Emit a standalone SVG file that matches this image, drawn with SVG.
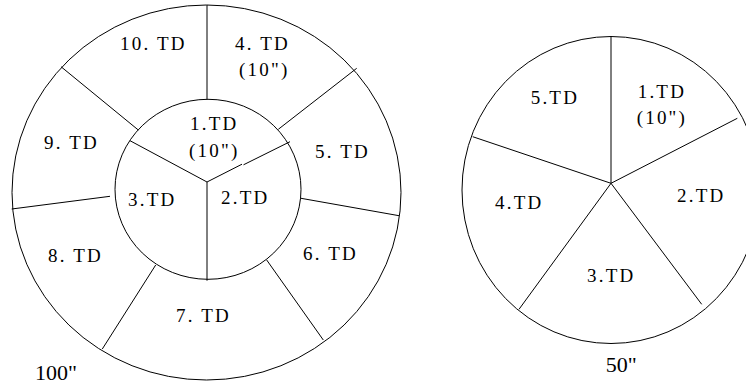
<svg xmlns="http://www.w3.org/2000/svg" width="746" height="388" viewBox="0 0 746 388">
<style>
.o{fill:none;stroke:#000;stroke-width:1}
.l{stroke:#000;stroke-width:1;fill:none}
.t{font-family:"Liberation Serif","Times New Roman",serif;font-size:19px;letter-spacing:2.2px;fill:#000}
.d{font-family:"Liberation Serif","Times New Roman",serif;font-size:22px;fill:#000}
</style>
<rect width="746" height="388" fill="#fff"/>
<g id="circle100">
<ellipse class="o" cx="206.5" cy="192.5" rx="194.5" ry="187.5"/>
<ellipse class="o" cx="208" cy="189.3" rx="93" ry="90"/>
</g>
<g id="connectors">
<line class="l" x1="207" y1="5" x2="207" y2="99.3"/>
<line class="l" x1="278.3" y1="129.3" x2="356.7" y2="68.3"/>
<line class="l" x1="138.3" y1="130" x2="61" y2="66.7"/>
<line class="l" x1="110" y1="196.3" x2="11.7" y2="209"/>
<line class="l" x1="301" y1="198.3" x2="399" y2="215.7"/>
<line class="l" x1="155.7" y1="265" x2="102.3" y2="349"/>
<line class="l" x1="266.7" y1="260" x2="323.3" y2="340"/>
<line class="l" x1="207" y1="182" x2="130" y2="140.7"/>
<line class="l" x1="207" y1="182" x2="242" y2="164.2"/>
<line class="l" x1="243.5" y1="164.8" x2="290" y2="141.7"/>
<line class="l" x1="207" y1="182" x2="207" y2="280.7"/>
<line class="l" x1="611" y1="36" x2="611" y2="183.3"/>
<line class="l" x1="611" y1="183.3" x2="737.3" y2="118.3"/>
<line class="l" x1="611" y1="183.3" x2="472.7" y2="136.7"/>
<line class="l" x1="611" y1="183.3" x2="519" y2="309.3"/>
<line class="l" x1="611" y1="183.3" x2="701.7" y2="304.3"/>
</g>
<g id="td10"><text class="t" x="120" y="50">10. TD</text></g>
<g id="td4"><text class="t" x="235" y="50">4. TD</text><text class="t" x="239" y="76">(10")</text></g>
<g id="td1"><text class="t" x="190" y="130">1.TD</text><text class="t" x="189" y="157">(10")</text></g>
<g id="td9"><text class="t" x="44" y="149">9. TD</text></g>
<g id="td5"><text class="t" x="315" y="157.7">5. TD</text></g>
<g id="td3"><text class="t" x="128" y="205.7">3.TD</text></g>
<g id="td2"><text class="t" x="221" y="204">2.TD</text></g>
<g id="td8"><text class="t" x="48" y="261.7">8. TD</text></g>
<g id="td6"><text class="t" x="303" y="260">6. TD</text></g>
<g id="td7"><text class="t" x="176" y="321.7">7. TD</text></g>
<g id="label100"><text class="d" x="35" y="380">100"</text></g>
<g id="circle50">
<ellipse class="o" cx="611" cy="190" rx="149" ry="153.5"/>
</g>
<g id="r5"><text class="t" x="530.7" y="104">5.TD</text></g>
<g id="r1"><text class="t" x="637.7" y="98.3">1.TD</text><text class="t" x="636.7" y="124.3">(10")</text></g>
<g id="r2"><text class="t" x="677" y="201.7">2.TD</text></g>
<g id="r4"><text class="t" x="495" y="209">4.TD</text></g>
<g id="r3"><text class="t" x="587" y="281.7">3.TD</text></g>
<g id="label50"><text class="d" x="605.7" y="371.7">50"</text></g>
</svg>
